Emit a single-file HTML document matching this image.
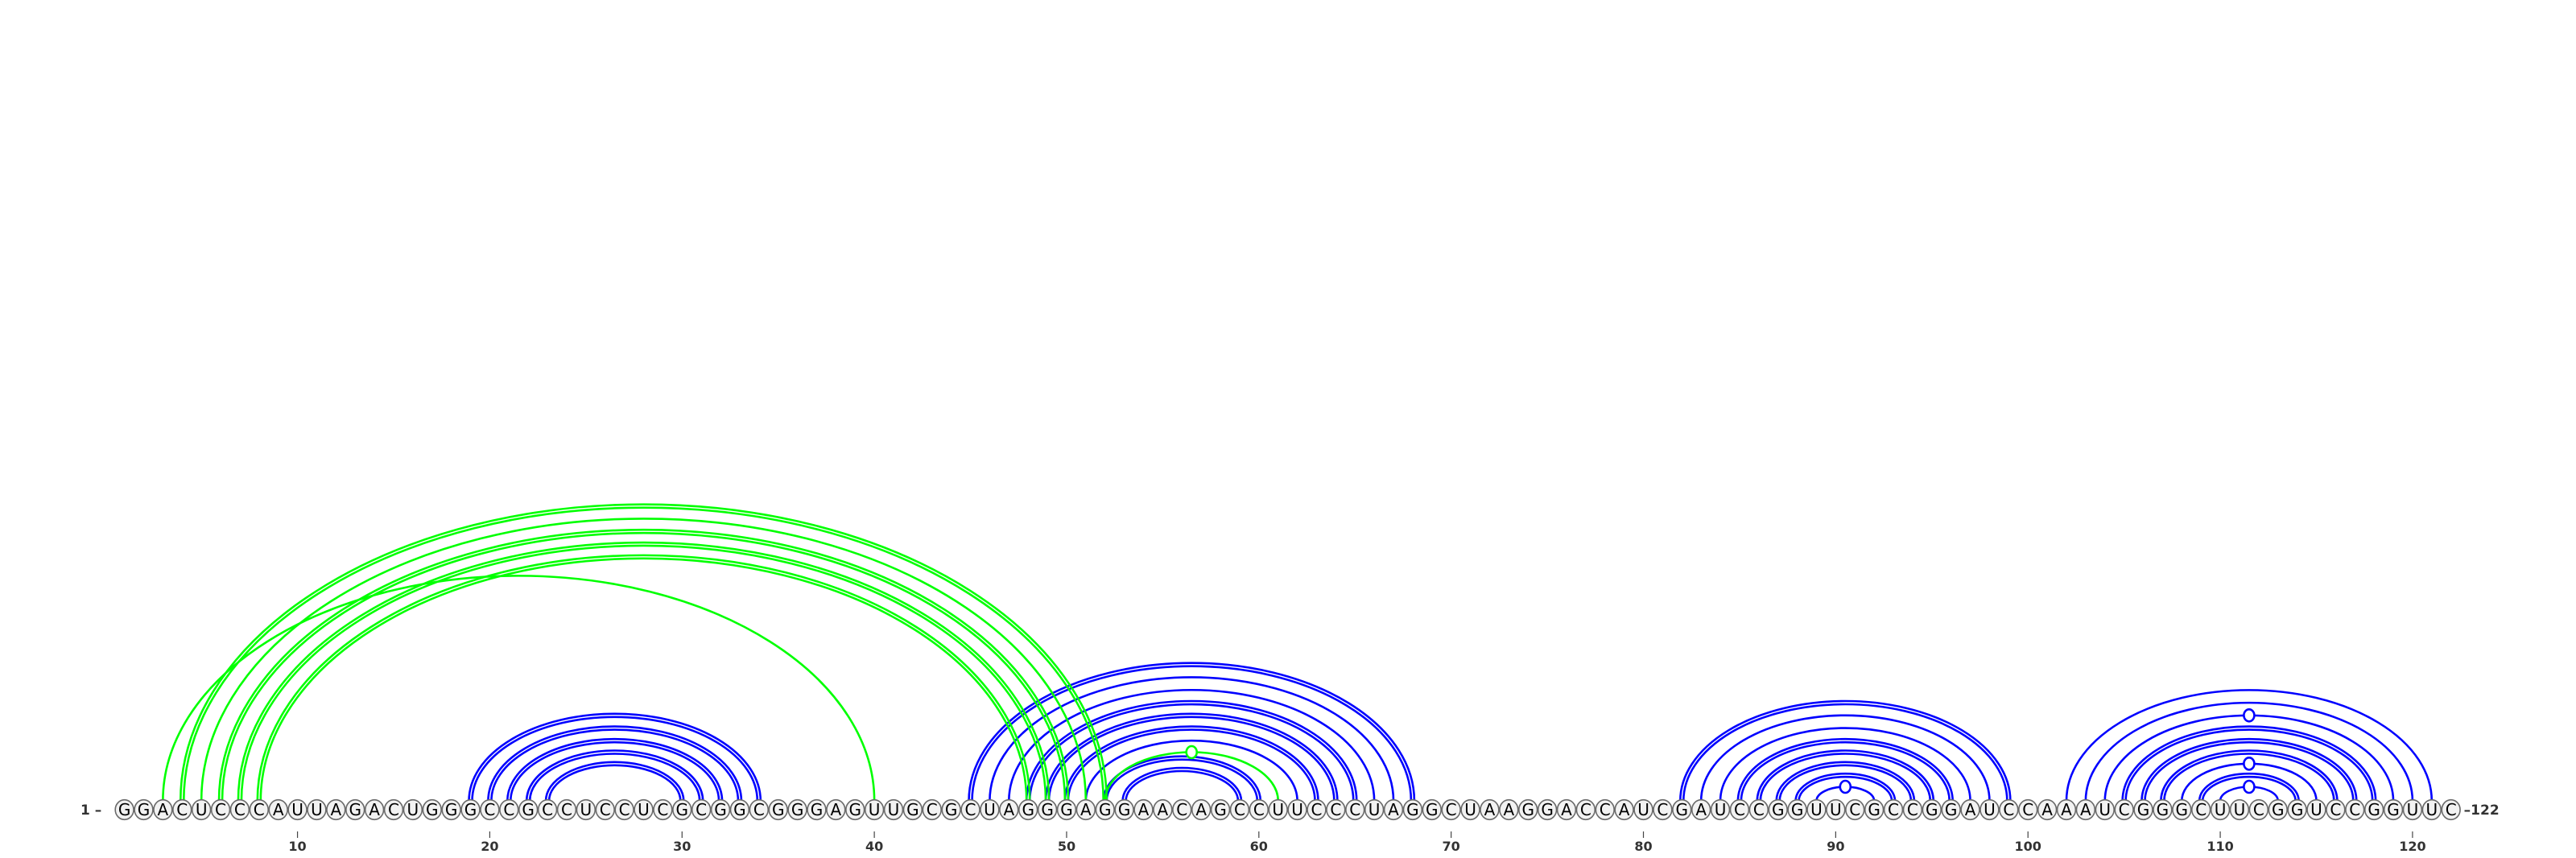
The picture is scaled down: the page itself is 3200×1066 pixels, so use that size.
<!DOCTYPE html>
<html><head><meta charset="utf-8">
<style>
html,body{margin:0;padding:0;background:#fff;}
svg{display:block;}
</style></head>
<body>
<svg id="chart" width="3200" height="1066" viewBox="0 0 3200 1066" xmlns="http://www.w3.org/2000/svg">
<g id="arcs-blue"></g>
<g id="arcs-green"></g>
<g id="nts"></g>
<g id="ticks"></g>
</svg>
<script>
const sequence = "GGACUCCCAUUAGACUGGGCCGCCUCCUCGCGGCGGGAGUUGCGCUAGGGAGGAACAGCCUUCCCUAGGCUAAGGACCAUCGAUCCGGUUCGCCGGAUCCAAAUCGGGCUUCGGUCCGGUUC";
const tickValues = [10,20,30,40,50,60,70,80,90,100,110,120];
// blue base pairs
const blueI = [19,20,21,22,23, 45,46,47,48,49,50,51,52,53, 82,83,84,85,86,87,88,89, 102,103,104,105,106,107,108,109,110];
const blueJ = [34,33,32,31,30, 68,67,66,65,64,63,62,60,59, 99,98,97,96,95,94,93,92, 121,120,119,118,117,116,115,114,113];
const blueLines = [2,2,2,2,2, 2,1,1,2,2,2,1,2,2, 2,1,1,2,2,2,2,1, 1,1,1,2,2,2,1,2,1];
const blueMarker = [0,0,0,0,0, 0,0,0,0,0,0,0,0,0, 0,0,0,0,0,0,0,1, 0,0,1,0,0,0,1,0,1];
// green base pairs
const greenI = [3,4,5,6,7,8,52];
const greenJ = [40,52,51,50,49,48,61];
const greenLines = [1,2,1,2,2,2,1];
const greenMarker = [0,0,0,0,0,0,1];

const NS="http://www.w3.org/2000/svg";
const X0=154.6, DX=23.885, YC=1006, YB=995;
const xPos = p => X0+(p-1)*DX;
const arcH = w => Math.max(8, 0.33*w-12, 0.3*w-4);
function mk(tag, attrs, parent){const e=document.createElementNS(NS,tag);for(const k in attrs)e.setAttribute(k,attrs[k]);parent.appendChild(e);return e;}

function drawArcs(I,J,L,M,color,gid,nm){
  const g=document.getElementById(gid);
  for(let k=0;k<I.length;k++){
    const x1=xPos(I[k]), x2=xPos(J[k]), w=x2-x1, h=arcH(w);
    const offs = L[k]===2 ? [-2,2] : [0];
    offs.forEach(o=>{
      const a=x1+o, b=x2-o, rx=(b-a)/2, ry=h-o;
      const p=mk('path',{d:`M${a},${YB} A${rx},${ry} 0 0 1 ${b},${YB}`,fill:'none',stroke:color,'stroke-width':2.6},g);
      
      
    });
    if(M[k]){
      const e=mk('ellipse',{cx:(x1+x2)/2,cy:YB-h,rx:6.5,ry:7.5,fill:'#fff',stroke:color,'stroke-width':2.6},g);
      
      
    }
  }
}
drawArcs(blueI,blueJ,blueLines,blueMarker,'#0000ff','arcs-blue','blue');
drawArcs(greenI,greenJ,greenLines,greenMarker,'#00ff00','arcs-green','green');

const nts=document.getElementById('nts');
for(let i=0;i<sequence.length;i++){
  const x=xPos(i+1);
  const c=mk('ellipse',{cx:x,cy:YC,rx:11.4,ry:12.3,fill:'#f2f2f2',stroke:'#6a6a6a','stroke-width':1.6},nts);
  
  
  const t=mk('text',{x:x,y:YC+7,'text-anchor':'middle','font-family':'"DejaVu Sans","Liberation Sans",sans-serif','font-size':20,fill:'#000'},nts);
  t.textContent=sequence[i];
  
  
}
const tk=document.getElementById('ticks');
tickValues.forEach(v=>{
  const x=xPos(v);
  const l=mk('line',{x1:x,x2:x,y1:1033,y2:1041,stroke:'#444','stroke-width':1.2},tk);
  
  
  const t=mk('text',{x:x,y:1057,'text-anchor':'middle','font-family':'"DejaVu Sans","Liberation Sans",sans-serif','font-size':16,'font-weight':'bold',fill:'#333'},tk);
  t.textContent=String(v);
  
  
});
const s=mk('text',{x:100,y:YC+6,'font-family':'"DejaVu Sans","Liberation Sans",sans-serif','font-size':17,'font-weight':'bold',fill:'#333'},tk);
s.textContent='1 \u2013';


const e=mk('text',{x:xPos(sequence.length)+16,y:YC+6,'font-family':'"DejaVu Sans","Liberation Sans",sans-serif','font-size':17,'font-weight':'bold',fill:'#333'},tk);
e.textContent='\u2013122';


</script>
</body></html>
